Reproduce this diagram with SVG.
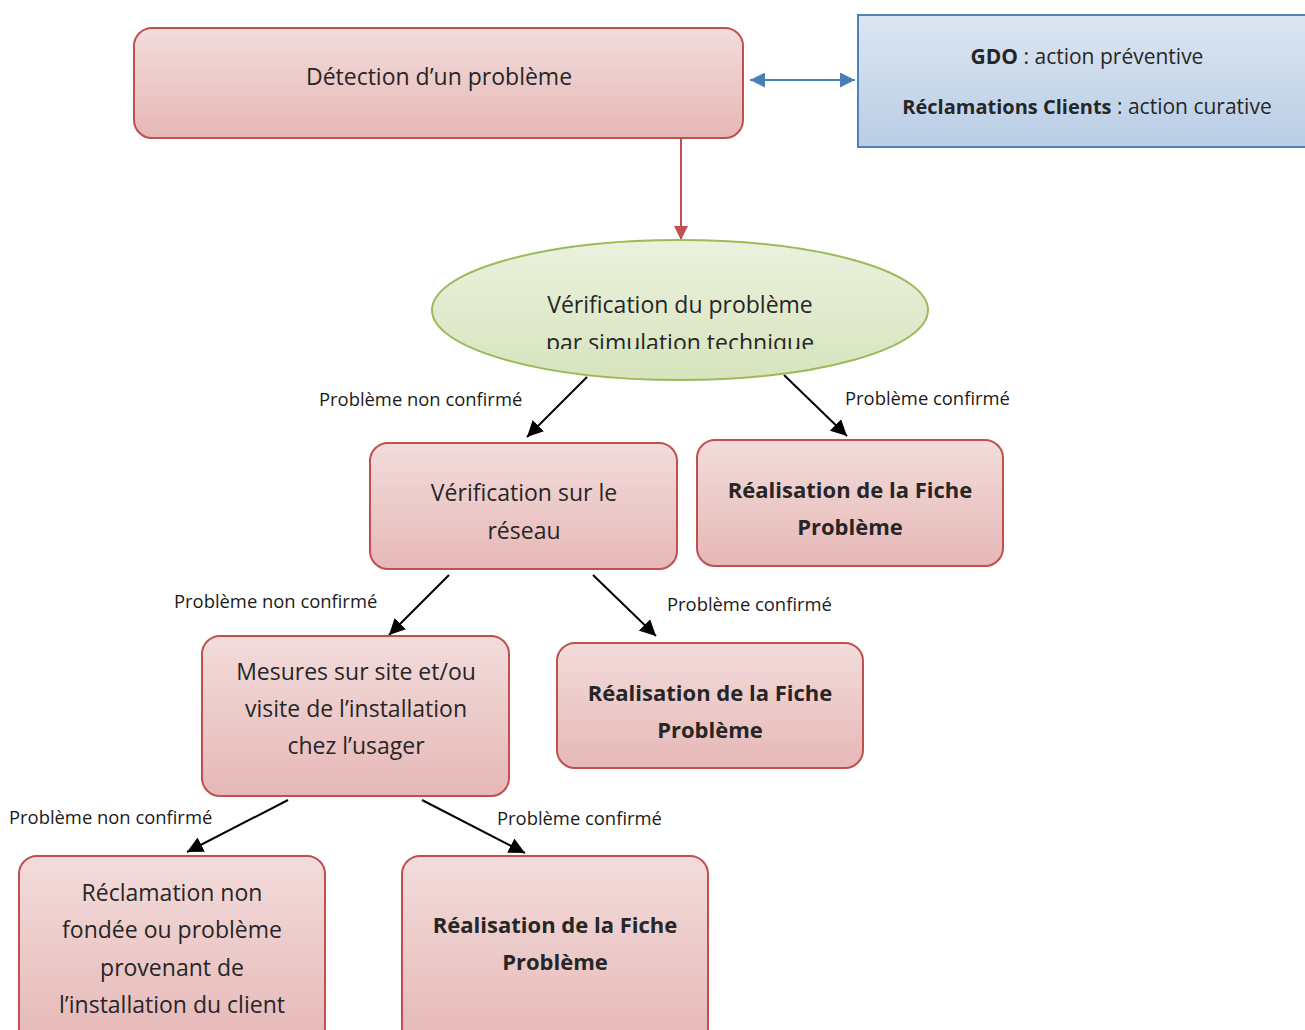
<svg xmlns="http://www.w3.org/2000/svg" width="1305" height="1030" viewBox="0 0 1305 1030">
<style>
.box{stroke:#c0504d;stroke-width:2;fill:url(#gRed)}
.t{font-family:"Open Sans","Noto Sans",sans-serif;font-size:23px;fill:#262626;text-anchor:middle}
.b{font-weight:bold;font-size:22px}
.bt{font-family:"Open Sans","Noto Sans",sans-serif;font-size:21px;fill:#262626;text-anchor:middle}
.lbl{font-family:"Open Sans","Noto Sans",sans-serif;font-size:18.4px;fill:#1a1a1a}
.con{stroke:#000;stroke-width:2;fill:none;marker-end:url(#mBlack)}
</style>
<defs>
<linearGradient id="gRed" x1="0" y1="0" x2="0" y2="1"><stop offset="0" stop-color="#f2dcdb"/><stop offset="1" stop-color="#e6b8b7"/></linearGradient>
<linearGradient id="gBlue" x1="0" y1="0" x2="0" y2="1"><stop offset="0" stop-color="#dce6f2"/><stop offset="1" stop-color="#b9cde5"/></linearGradient>
<linearGradient id="gGreen" x1="0" y1="0" x2="0" y2="1"><stop offset="0" stop-color="#ebf1de"/><stop offset="1" stop-color="#d7e4bd"/></linearGradient>
<marker id="mBlack" viewBox="0 0 10 10" refX="10" refY="5" markerWidth="16" markerHeight="16" markerUnits="userSpaceOnUse" orient="auto"><path d="M0,0L10,5L0,10z" fill="#000"/></marker>
<marker id="mRed" viewBox="0 0 10 10" refX="10" refY="5" markerWidth="14" markerHeight="16" markerUnits="userSpaceOnUse" orient="auto"><path d="M0,0L10,5L0,10z" fill="#c0504d"/></marker>
<marker id="mBlue" viewBox="0 0 10 10" refX="10" refY="5" markerWidth="15" markerHeight="15" markerUnits="userSpaceOnUse" orient="auto-start-reverse"><path d="M0,0L10,5L0,10z" fill="#4a7ebb"/></marker>
<clipPath id="cEll"><rect x="430" y="238" width="500" height="111"/></clipPath>
</defs>
<g id="connectors">
<line x1="681" y1="138" x2="681" y2="240" stroke="#c0504d" stroke-width="2" marker-end="url(#mRed)"/>
<line x1="750" y1="80" x2="855" y2="80" stroke="#4a7ebb" stroke-width="2" marker-start="url(#mBlue)" marker-end="url(#mBlue)"/>
<line class="con" x1="587" y1="377" x2="527" y2="437"/>
<line class="con" x1="784" y1="375" x2="847" y2="436"/>
<line class="con" x1="449" y1="575" x2="389" y2="635"/>
<line class="con" x1="593" y1="575" x2="656" y2="636"/>
<line class="con" x1="288" y1="800" x2="187" y2="852"/>
<line class="con" x1="422" y1="800" x2="525" y2="853"/>
<text class="lbl" x="319" y="406">Problème non confirmé</text>
<text class="lbl" x="845" y="405">Problème confirmé</text>
<text class="lbl" x="174" y="608">Problème non confirmé</text>
<text class="lbl" x="667" y="611">Problème confirmé</text>
<text class="lbl" x="9" y="824">Problème non confirmé</text>
<text class="lbl" x="497" y="825">Problème confirmé</text>
</g>
<g id="n-detection">
<rect class="box" x="134" y="28" width="609" height="110" rx="18"/>
<text class="t" x="439" y="85">Détection d’un problème</text>
</g>
<g id="n-gdo">
<rect x="858" y="15" width="460" height="132" fill="url(#gBlue)" stroke="#4f81bd" stroke-width="2"/>
<text class="bt" x="1087" y="64"><tspan font-weight="bold">GDO</tspan> : action préventive</text>
<text class="bt" x="1087" y="114"><tspan font-weight="bold" font-size="20px">Réclamations Clients</tspan> : action curative</text>
</g>
<g id="n-verif-sim">
<ellipse cx="680" cy="310" rx="248" ry="70" fill="url(#gGreen)" stroke="#9bbb59" stroke-width="2"/>
<g clip-path="url(#cEll)">
<text class="t" x="680" y="313">Vérification du problème</text>
<text class="t" x="680" y="351">par simulation technique</text>
</g>
</g>
<g id="n-verif-reseau">
<rect class="box" x="370" y="443" width="307" height="126" rx="18"/>
<text class="t" x="524" y="501">Vérification sur le</text>
<text class="t" x="524" y="539">réseau</text>
</g>
<g id="n-fiche1">
<rect class="box" x="697" y="440" width="306" height="126" rx="18"/>
<text class="t b" x="850" y="498">Réalisation de la Fiche</text>
<text class="t b" x="850" y="535">Problème</text>
</g>
<g id="n-mesures">
<rect class="box" x="202" y="636" width="307" height="160" rx="18"/>
<text class="t" x="356" y="680">Mesures sur site et/ou</text>
<text class="t" x="356" y="717">visite de l’installation</text>
<text class="t" x="356" y="754">chez l’usager</text>
</g>
<g id="n-fiche2">
<rect class="box" x="557" y="643" width="306" height="125" rx="18"/>
<text class="t b" x="710" y="701">Réalisation de la Fiche</text>
<text class="t b" x="710" y="738">Problème</text>
</g>
<g id="n-reclamation">
<rect class="box" x="19" y="856" width="306" height="190" rx="18"/>
<text class="t" x="172" y="901">Réclamation non</text>
<text class="t" x="172" y="938">fondée ou problème</text>
<text class="t" x="172" y="976">provenant de</text>
<text class="t" x="172" y="1013">l’installation du client</text>
</g>
<g id="n-fiche3">
<rect class="box" x="402" y="856" width="306" height="190" rx="18"/>
<text class="t b" x="555" y="933">Réalisation de la Fiche</text>
<text class="t b" x="555" y="970">Problème</text>
</g>
</svg>
